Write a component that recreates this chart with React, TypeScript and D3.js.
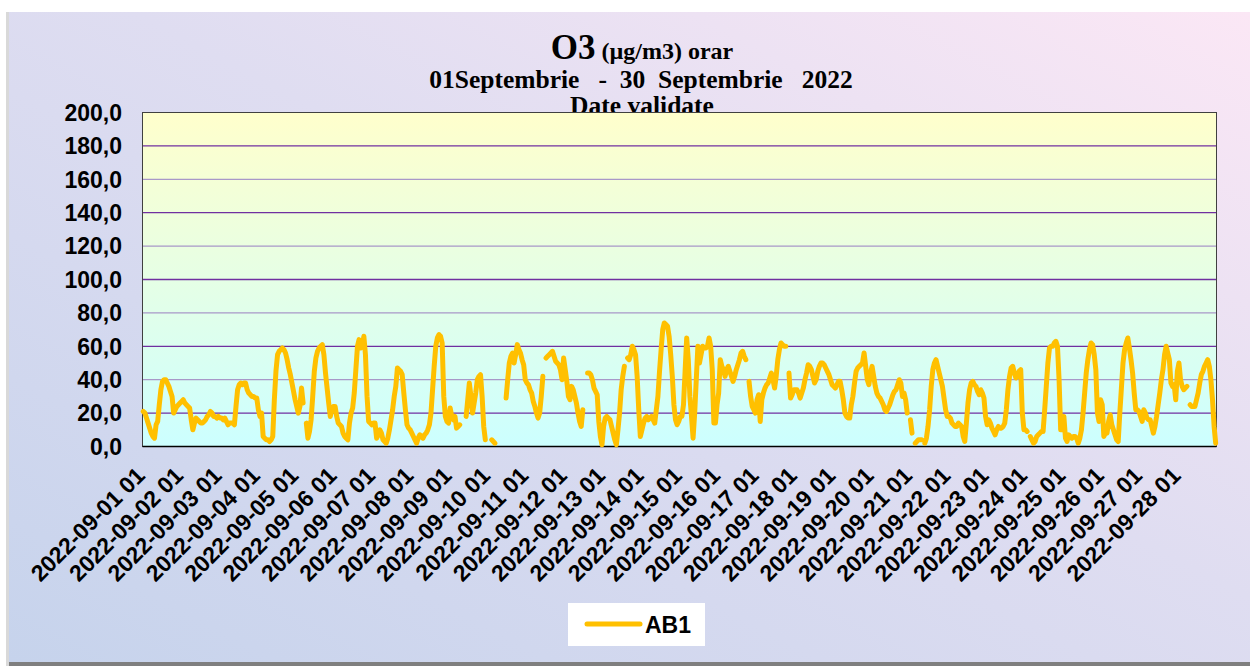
import React from "react";
import * as d3 from "d3";

const titleMain = "O3";
const titleUnit = " (µg/m3) orar";
const subtitle = "01Septembrie   -  30  Septembrie   2022";
const subtitle2 = "Date validate";
const seriesName = "AB1";
const startHour = new Date(2022, 8, 1, 1, 0, 0);
const yTicks = [0, 20, 40, 60, 80, 100, 120, 140, 160, 180, 200];

// hourly O3 values (µg/m3), null = missing
const day01 = [21, 20, 17, 14, 11, 8, 6, 5, 13, 15, 25, 34, 39, 40, 40, 38, 36, 33, 30, 20, 22, 24, 25, 26];
const day02 = [27, 28, 26, 25, 24, 23, 16, 10, 14, 17, 16, 15, 14, 14, 15, 16, 18, 19, 21, 20, 18, 18, 17, 18];
const day03 = [17, 17, 16, 17, 15, 13, 14, 14, 14, 13, 24, 34, 37, 38, 37, 38, 38, 34, 32, 31, 30, 30, 29, 29];
const day04 = [22, 18, 20, 6, 5, 4, 4, 3, 4, 6, 28, 45, 55, 57, 58, 59, 58, 56, 52, 47, 43, 38, 33, 28];
const day05 = [24, 20, 24, 35, 26, null, 14, 5, 9, 16, 30, 45, 53, 57, 59, 60, 61, 55, 44, 35, 26, 18, 22, 24];
const day06 = [24, 18, 14, 13, 12, 8, 6, 5, 4, 14, 20, 23, 32, 46, 60, 64, 59, 60, 66, 55, 30, 15, 14, 13];
const day07 = [14, 14, 5, 7, 10, 8, 4, 3, 2, 5, 10, 16, 22, 30, 36, 47, 46, 45, 43, 32, 22, 13, 11, 10];
const day08 = [8, 6, 4, 2, 5, 7, 6, 5, 7, 8, 10, 13, 20, 34, 48, 60, 65, 67, 66, 62, 30, 18, 15, 14];
const day09 = [23, 18, 16, 18, 11, 12, 13, null, null, null, 18, 28, 38, 30, 20, 26, 32, 40, 42, 43, 30, 12, 4, null];
const day10 = [null, null, 4, 3, 2, null, null, null, null, null, null, 29, 40, 50, 54, 56, 50, 55, 61, 58, 56, 52, 49, 40];
const day11 = [38, 37, 34, 32, 27, 24, 20, 17, 20, 30, 42, null, 53, 54, 55, 56, 57, 54, 51, 50, 49, 46, 40, 53];
const day12 = [46, 39, 30, 28, 36, 34, 30, 26, 20, 15, 12, 22, null, null, 44, 44, 43, 40, 35, 33, 31, 15, 6, 1];
const day13 = [12, 17, 18, 17, 16, 12, 8, 4, 1, 10, 20, 34, 42, 48, null, 53, 52, 55, 60, 58, 55, 42, 22, 6];
const day14 = [10, 14, 17, 18, 16, 17, 18, 16, 14, 22, 30, 45, 58, 70, 74, 73, 72, 66, 55, 42, 25, 16, 13, 15];
const day15 = [18, 18, 25, 45, 65, 52, 30, 18, 5, 20, 40, 60, 50, 55, 60, 59, 59, 60, 65, 60, 46, 14, 14, 25];
const day16 = [32, 52, 48, 46, 42, 46, 48, 45, 42, 39, 42, 46, 49, 52, 56, 57, 54, 52, null, 39, 30, 24, 22, 20];
const day17 = [28, 31, 15, 28, 32, 35, 37, 38, 41, 44, 40, 35, 42, 52, 58, 62, 61, 60, 60, null, 44, 29, 31, 34];
const day18 = [34, 34, 32, 29, 32, 35, 40, 44, 49, 48, 46, 42, 38, 40, 45, 48, 50, 50, 49, 47, 45, 43, 40, 37];
const day19 = [36, 35, 37, 39, 39, 34, 28, 20, 18, 17, 17, 25, 30, 38, 45, 47, 48, 49, 50, 56, 48, 40, 37, 44];
const day20 = [48, 42, 36, 32, 30, 29, 27, 25, 22, 21, 23, 25, 28, 31, 33, 34, 37, 40, 38, 30, 32, 28, 20, null];
const day21 = [16, 8, null, 2, 3, 4, 4, 4, null, 2, 5, 12, 22, 36, 46, 50, 52, 48, 44, 40, 36, 29, 22, 18];
const day22 = [18, 17, 14, 13, 12, 12, 14, 13, 12, 6, 3, 14, 26, 34, 38, 39, 37, 36, 33, 31, 34, 32, 29, 18];
const day23 = [13, 16, 14, 11, 9, 7, 10, 12, 11, 11, 12, 14, 22, 34, 42, 47, 48, 44, 41, 43, 45, 46, 20, 10];
const day24 = [10, 9, null, 6, 4, 2, 3, 6, 7, 8, 9, 9, 22, 36, 50, 59, 60, 60, 62, 63, 60, 40, 10, 10];
const day25 = [18, 5, 3, 7, 6, 5, 6, 6, 5, 2, 5, 10, 20, 32, 44, 52, 58, 62, 61, 55, 46, 20, 15, 28];
const day26 = [25, 6, 8, 8, 15, 19, 13, 10, 7, 4, 3, 20, 35, 50, 58, 62, 65, 59, 52, 44, 32, 22, 22, 21];
const day27 = [18, 15, 22, 20, 17, 16, 16, 12, 8, 12, 18, 25, 32, 40, 46, 55, 60, 56, 52, 38, 36, 37, 28, 45];
const day28 = [50, 40, 36, 34, 35, 36, null, 25, 24, 24, 24, 28, 32, 38, 43, 45, 48, 50, 52, 48, 40, 28, 12, 2];

const o3Values: (number | null)[] = [
  ...day01, ...day02, ...day03, ...day04, ...day05, ...day06, ...day07,
  ...day08, ...day09, ...day10, ...day11, ...day12, ...day13, ...day14,
  ...day15, ...day16, ...day17, ...day18, ...day19, ...day20, ...day21,
  ...day22, ...day23, ...day24, ...day25, ...day26, ...day27, ...day28,
];

const W = 1250;
const H = 666;
const plot = { left: 142.5, right: 1216.5, top: 112.5, bottom: 446.5 };

const fmtCat = d3.timeFormat("%Y-%m-%d %H");
const categories = o3Values.map((_, i) => fmtCat(d3.timeHour.offset(startHour, i)));

export default function App() {
  const x = d3
    .scaleBand<number>()
    .domain(o3Values.map((_, i) => i))
    .range([plot.left, plot.right])
    .padding(0);
  const cx = (i: number) => (x(i) as number) + x.bandwidth() / 2;
  const y = d3.scaleLinear().domain([0, 200]).range([plot.bottom, plot.top]);

  const line = d3
    .line<number | null>()
    .defined((d) => d != null)
    .x((_, i) => cx(i))
    .y((d) => y(d as number));

  const tickIdx = o3Values.map((_, i) => i).filter((i) => i % 24 === 0);
  const fmtY = (v: number) => d3.format(".1f")(v).replace(".", ",");
  const sans = "'Liberation Sans', Arial, sans-serif";
  const serif = "'Liberation Serif', 'Times New Roman', serif";

  return (
    <svg
      width={W}
      height={H}
      style={{ position: "absolute", left: 0, top: 0, display: "block" }}
    >
      <defs>
        <linearGradient id="bg" x1="0" y1="1" x2="1" y2="0">
          <stop offset="0%" stopColor="#C6D3EC" />
          <stop offset="55%" stopColor="#DFDDF1" />
          <stop offset="100%" stopColor="#FBE7F5" />
        </linearGradient>
        <linearGradient id="pg" x1="0" y1="0" x2="0" y2="1">
          <stop offset="0%" stopColor="#FFFFCC" />
          <stop offset="100%" stopColor="#CCFFFF" />
        </linearGradient>
      </defs>
      <rect x={0} y={0} width={W} height={H} fill="#FFFFFF" />
      <rect x={6} y={12} width={W - 6} height={H - 12} fill="#D9D9D9" />
      <rect x={9} y={12} width={W - 9} height={650} fill="url(#bg)" />
      <rect x={9} y={662} width={W - 9} height={4} fill="#7F7F7F" />

      <text
        x={642}
        y={59}
        textAnchor="middle"
        fontFamily={serif}
        fontWeight="bold"
        fill="#000"
      >
        <tspan fontSize={35}>{titleMain}</tspan>
        <tspan fontSize={24}>{titleUnit}</tspan>
      </text>
      <text
        x={641}
        y={88}
        textAnchor="middle"
        fontFamily={serif}
        fontWeight="bold"
        fontSize={25.5}
        fill="#000"
        style={{ whiteSpace: "pre" }}
      >
        {subtitle}
      </text>
      <text
        x={642}
        y={114}
        textAnchor="middle"
        fontFamily={serif}
        fontWeight="bold"
        fontSize={25.5}
        fill="#000"
      >
        {subtitle2}
      </text>

      <rect
        x={plot.left}
        y={plot.top}
        width={plot.right - plot.left}
        height={plot.bottom - plot.top}
        fill="url(#pg)"
      />
      {yTicks
        .filter((t) => t > 0 && t < 200)
        .map((t) => (
          <line
            key={t}
            x1={plot.left}
            x2={plot.right}
            y1={y(t)}
            y2={y(t)}
            stroke={t % 40 === 0 ? "#A898C8" : "#7030A0"}
            strokeWidth={1.3}
          />
        ))}
      <rect
        x={plot.left}
        y={plot.top}
        width={plot.right - plot.left}
        height={plot.bottom - plot.top}
        fill="none"
        stroke="#404040"
        strokeWidth={1}
      />
      <line
        x1={plot.left}
        x2={plot.right}
        y1={plot.bottom}
        y2={plot.bottom}
        stroke="#000"
        strokeWidth={1.5}
      />

      {yTicks.map((t) => (
        <text
          key={t}
          x={122}
          y={y(t)}
          dy="0.36em"
          textAnchor="end"
          fontFamily={sans}
          fontWeight="bold"
          fontSize={23}
          fill="#000"
        >
          {fmtY(t)}
        </text>
      ))}

      {tickIdx.map((i) => (
        <text
          key={i}
          transform={`translate(${cx(i) + 3},${477}) rotate(-45)`}
          textAnchor="end"
          fontFamily={sans}
          fontWeight="bold"
          fontSize={23}
          fill="#000"
        >
          {categories[i]}
        </text>
      ))}

      <path
        d={line(o3Values) || ""}
        fill="none"
        stroke="#FFC000"
        strokeWidth={5}
        strokeLinejoin="round"
        strokeLinecap="round"
      />

      <rect x={568} y={603} width={137} height={43} fill="#FFFFFF" />
      <line
        x1={587}
        x2={640}
        y1={624}
        y2={624}
        stroke="#FFC000"
        strokeWidth={5}
        strokeLinecap="round"
      />
      <text
        x={645}
        y={633}
        fontFamily={sans}
        fontWeight="bold"
        fontSize={23}
        fill="#000"
      >
        {seriesName}
      </text>
    </svg>
  );
}
